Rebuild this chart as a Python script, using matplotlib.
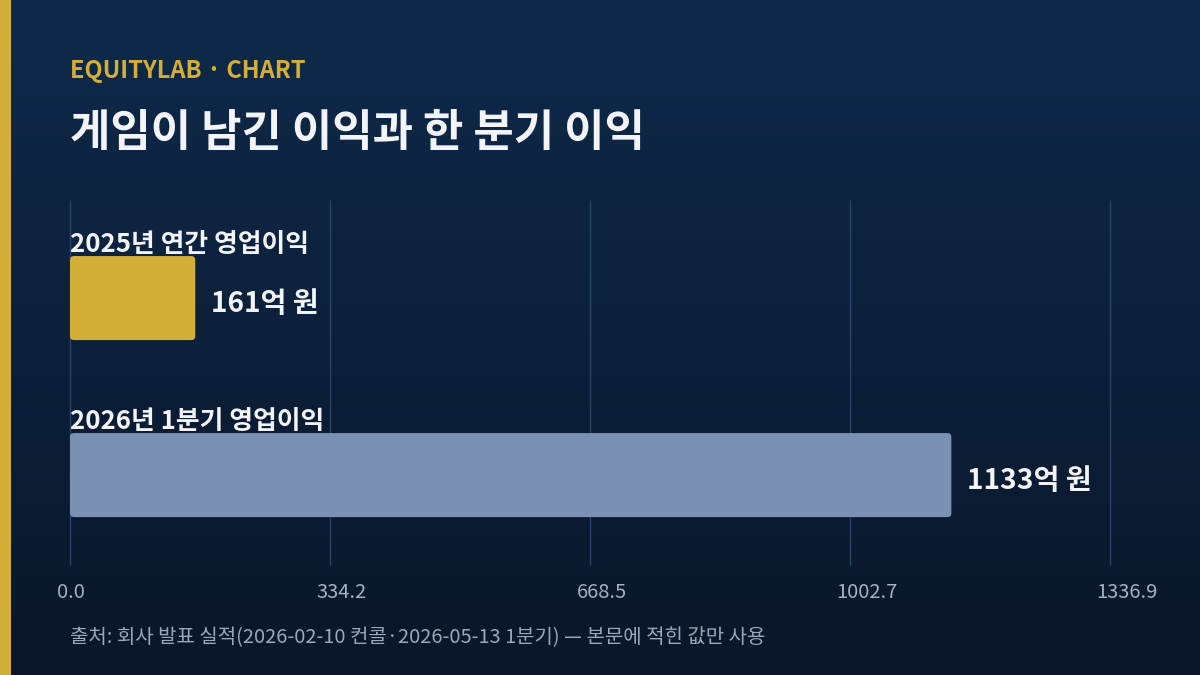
import numpy as np
import matplotlib
matplotlib.use("Agg")
import matplotlib.pyplot as plt
from matplotlib.patches import FancyBboxPatch, Rectangle
from matplotlib.colors import LinearSegmentedColormap

plt.rcParams['font.family'] = ['Noto Sans CJK KR', 'DejaVu Sans']

# data
categories = ['2025년 연간 영업이익', '2026년 1분기 영업이익']
values = [161, 1133]
value_labels = ['161억 원', '1133억 원']
bar_colors = ['#d4af37', '#7b91b4']

brand = 'EQUITYLAB · CHART'
title = '게임이 남긴 이익과 한 분기 이익'
source = '출처: 회사 발표 실적(2026-02-10 컨콜·2026-05-13 1분기) — 본문에 적힌 값만 사용'

W, H = 1200, 675
fig = plt.figure(figsize=(12, 6.75), dpi=100)

# background gradient
bg = fig.add_axes([0, 0, 1, 1])
cmap = LinearSegmentedColormap.from_list('bg', ['#0f2a4b', '#0a1629'])
grad = np.linspace(0, 1, 256).reshape(-1, 1)
bg.imshow(grad, aspect='auto', cmap=cmap, extent=[0, 1, 0, 1], origin='upper')
bg.add_patch(Rectangle((0, 0), 11 / W, 1, color='#d4af37', lw=0))
bg.set_xlim(0, 1)
bg.set_ylim(0, 1)
bg.axis('off')

fig.text(70 / W, 1 - 71 / H, brand, color='#d4af37', fontsize=17,
         fontweight='bold', va='center', ha='left')
fig.text(70 / W, 1 - 133 / H, title, color='#f2f4f8', fontsize=31.6,
         fontweight='bold', va='center', ha='left')
fig.text(70 / W, 1 - 638 / H, source, color='#9aa7bd', fontsize=14.4,
         va='center', ha='left')

# chart area
left, right, top, bottom = 70, 1110, 200, 565
ax = fig.add_axes([left / W, 1 - bottom / H, (right - left) / W, (bottom - top) / H])
ax.set_facecolor('none')
xmax = max(values) * 1.18
ax.set_xlim(0, xmax)
ax.set_ylim(1.508, -0.554)

xpp = xmax / (right - left)
ypp = 2.062 / (bottom - top)

ticks = np.linspace(0, xmax, 5)
ax.vlines(ticks, -0.554, 1.508, color='#2a4469', lw=1, zorder=0, clip_on=False)
for t in ticks:
    ax.text(t - 13.5 * xpp, 1.508 + 28 * ypp, '%.1f' % t, color='#a3b0c6',
            fontsize=14.5, ha='left', va='center', clip_on=False)

ypos = np.arange(len(values))
bh = 0.4746
for y, v, c, cat, lab in zip(ypos, values, bar_colors, categories, value_labels):
    p = FancyBboxPatch((0, y - bh / 2), v, bh,
                       boxstyle='round,pad=0,rounding_size=%f' % (4 * xpp),
                       mutation_aspect=ypp / xpp, fc=c, ec='none', zorder=3)
    ax.add_patch(p)
    ax.text(0, y - bh / 2 + 2 * ypp, cat, color='#f2f4f8', fontsize=18.6,
            fontweight='bold', va='bottom', ha='left', zorder=4)
    ax.text(v + 16 * xpp, y + 6 * ypp, lab, color='#f2f4f8', fontsize=20.3,
            fontweight='bold', va='center', ha='left', zorder=4)

ax.set_xticks([])
ax.set_yticks([])
for s in ax.spines.values():
    s.set_visible(False)

fig.savefig('out.png', dpi=100)
